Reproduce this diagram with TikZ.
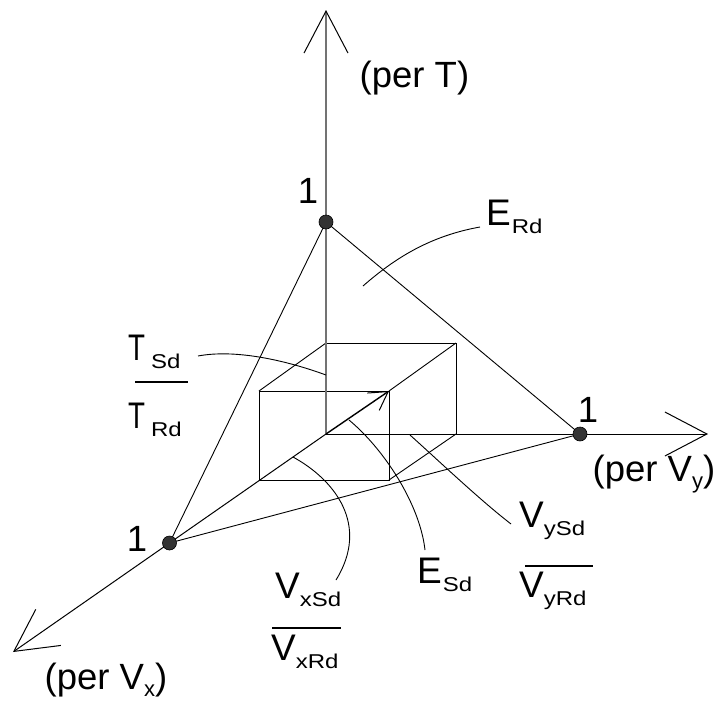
\documentclass[tikz,border=0pt]{standalone}
\usepackage{fontspec}
\setmainfont{Liberation Sans}
\usepackage{graphicx}
\usetikzlibrary{arrows.meta}
\newcommand{\sbx}[1]{\raisebox{-8.5pt}{\fontsize{20}{20}\selectfont\scalebox{1.2}[1]{#1}}}
\newcommand{\sbax}[1]{\raisebox{-7pt}{\fontsize{22}{22}\selectfont #1}}
\begin{document}
\begin{tikzpicture}[x=1pt,y=-1pt,
  lbl/.style={inner sep=0pt, anchor=base west, font=\fontsize{37}{40}\selectfont},
  axl/.style={inner sep=0pt, anchor=base west, font=\fontsize{36.5}{40}\selectfont},
  edge/.style={line width=0.9pt, black},
  axisT/.style={line width=1.4pt, black!55, -{Straight Barb[length=42pt,width=44pt,line width=1pt,color=black]}},
  axisH/.style={line width=1pt, black, -{Straight Barb[length=42pt,width=44pt,line width=1pt]}},
  dot/.style={circle, fill=black!80, draw=black, line width=0.6pt, minimum size=14pt, inner sep=0pt},
  fracbar/.style={line width=2.5pt},
  lead/.style={line width=0.9pt}
]
\useasboundingbox (0,0) rectangle (724,702);
% axes
\coordinate (O) at (326,434);
\coordinate (Ttip) at (326,10);
\coordinate (Ytip) at (708,434);
\coordinate (Xtip) at (13,652);
% cube corners
\coordinate (B1) at (326,343);
\coordinate (B2) at (456,343);
\coordinate (B3) at (456,434);
\coordinate (F1) at (259,391);
\coordinate (F2) at (389,391);
\coordinate (F3) at (389,480);
\coordinate (F4) at (259,480);
% triangle
\coordinate (PT) at (326,222);
\coordinate (PY) at (580,434);
\coordinate (PX) at (169.5,543);
\draw[edge] (PT) -- (PX) -- (PY) -- cycle;
% cube
\draw[edge] (B1) -- (B2) -- (B3);
\draw[edge] (F1) -- (F2) -- (F3) -- (F4) -- cycle;
\draw[edge] (B1) -- (F1);
\draw[edge] (B2) -- (F2);
\draw[edge] (B3) -- (F3);
% axes
\draw[axisH] (O) -- (Ytip);
\draw[axisH] (O) -- (Xtip);
\draw[axisT] (O) -- (Ttip);
% E_Sd vector
\draw[line width=1.4pt, -{Straight Barb[length=18pt,width=21pt,line width=1pt]}] (O) -- (F2);
% dots
\node[dot] (dT) at (PT) {};
\node[dot] (dY) at (PY) {};
\node[dot] (dX) at (PX) {};
% ones
\node[axl, anchor=center] (oneT) at (308,191) {1};
\node[axl, anchor=center] (oneY) at (588,410) {1};
\node[axl, anchor=center] (oneX) at (137,539) {1};
% axis labels
\node[axl] (perT) at (359.5,87) {(per T)};
\node[axl] (perY) at (592.5,481) {(per V\sbax{y})};
\node[axl] (perX) at (44.5,689) {(per V\sbax{x})};
% leader end points
\coordinate (lERa) at (363,286);
\coordinate (lERb) at (480,227);
\coordinate (lTa) at (198,356);
\coordinate (lTb) at (326,375);
\coordinate (lXa) at (293,457);
\coordinate (lXb) at (336,580);
\coordinate (lEa) at (349,420);
\coordinate (lEb) at (425,550);
\coordinate (lYa) at (410,435);
\coordinate (lYb) at (511,524);
\draw[lead] (lERa) .. controls (395,258) and (430,236) .. (lERb);
\draw[lead] (lTa) .. controls (235,349) and (285,360) .. (lTb);
\draw[lead] (lXa) .. controls (335,480) and (370,525) .. (lXb);
\draw[lead] (lEa) .. controls (385,450) and (420,505) .. (lEb);
\draw[lead] (lYa) .. controls (440,462) and (480,500) .. (lYb);
% labels
\node[lbl] (ERd) at (486,225) {E\hspace{1pt}\sbx{Rd}};
\node[lbl] (ESd) at (417,583) {E\hspace{1pt}\sbx{Sd}};
\node[lbl] (TSd) at (128,360) {\scalebox{0.75}[1]{T}\hspace{6pt}\sbx{Sd}};
\node[lbl] (TRd) at (128,428) {\scalebox{0.75}[1]{T}\hspace{6pt}\sbx{Rd}};
\draw[fracbar] (135,382) -- (188,382);
\node[lbl] (VySd) at (519,527) {V\sbx{ySd}};
\draw[fracbar] (525,566) -- (593,566);
\node[lbl] (VyRd) at (519,597) {V\sbx{yRd}};
\node[lbl] (VxSd) at (275,598) {V\sbx{xSd}};
\draw[fracbar] (272,628) -- (341,628);
\node[lbl] (VxRd) at (271,660) {V\sbx{xRd}};
\end{tikzpicture}
\end{document}
